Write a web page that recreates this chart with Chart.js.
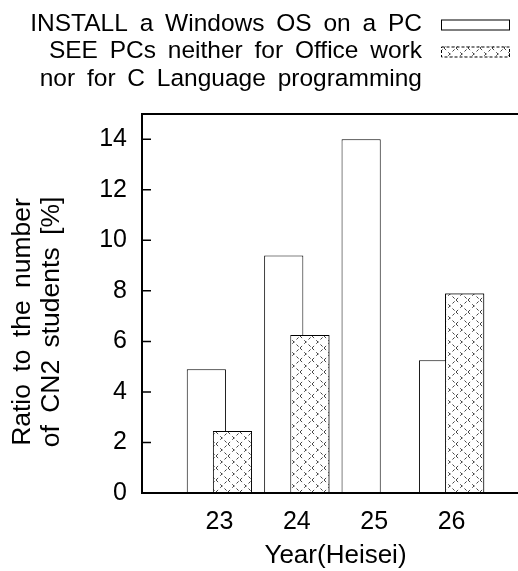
<!DOCTYPE html>
<html>
<head>
<meta charset="utf-8">
<script src="https://cdn.jsdelivr.net/npm/chart.js@4/dist/chart.umd.min.js"></script>
<style>
  html, body { margin: 0; padding: 0; background: #fff; overflow: hidden; }
  #wrap { width: 530px; height: 571px; }
  canvas { display: block; }
</style>
</head>
<body>
<div id="wrap"><canvas id="myChart" width="530" height="571" style="width:530px;height:571px"></canvas></div>
<script>
const years = ["23", "24", "25", "26"];
const installWindows = [4.9, 9.4, 14.0, 5.25];
const seeNoPCs = [2.45, 6.25, null, 7.9];
const seriesNames = [
  ["INSTALL a Windows OS on a PC"],
  ["SEE PCs neither for Office work", "nor for C Language programming"]
];
const yTicks = [0, 2, 4, 6, 8, 10, 12, 14];
const yTitle = ["Ratio to the number", "of CN2 students [%]"];
const xTitle = "Year(Heisei)";

const FONT = "'Liberation Sans', Arial, sans-serif";

// crossed dashed hatch like gnuplot's fill pattern
const makeHatch = () => {
  const c = document.createElement("canvas");
  c.width = 12;
  c.height = 12;
  const g = c.getContext("2d");
  g.fillStyle = "#fff";
  g.fillRect(0, 0, 12, 12);
  g.strokeStyle = "#444";
  g.lineWidth = 1;
  g.setLineDash([3, 3]);
  g.beginPath();
  g.moveTo(0, 0); g.lineTo(12, 12);
  g.moveTo(0, 12); g.lineTo(12, 0);
  g.stroke();
  return g.createPattern(c, "repeat");
};
const ctx = document.getElementById("myChart");
const hatch = makeHatch();

// pad the category axis by one empty slot on each side
const labels = ["", ...years, ""];
const pad = (arr) => [null, ...arr, null];

const framePlugin = {
  id: "frame",
  afterDatasetsDraw(chart) {
    const { ctx: g, chartArea: a, scales } = chart;
    // chart.js paints dataset 0 last; put the hatched bars back on top
    chart.getDatasetMeta(1).data.forEach((bar) => bar.draw(g));
    g.save();
    g.strokeStyle = "#000";
    g.lineWidth = 2;
    g.strokeRect(a.left, a.top, a.right - a.left, a.bottom - a.top);
    g.lineWidth = 1.5;
    g.beginPath();
    yTicks.forEach((v) => {
      const y = scales.y.getPixelForValue(v);
      g.moveTo(a.left, y);
      g.lineTo(a.left + 9, y);
    });
    g.stroke();
    g.restore();
  },
  afterDraw(chart) {
    const g = chart.ctx;
    g.save();
    g.fillStyle = "#000";
    g.font = "26.5px " + FONT;
    g.wordSpacing = "5px";
    // y title
    g.translate(23, 322);
    g.rotate(-Math.PI / 2);
    g.textAlign = "center";
    g.textBaseline = "middle";
    yTitle.forEach((t, i) => g.fillText(t, 0, i * 28.5));
    g.restore();

    // legend, text right aligned with sample box on the right
    g.save();
    g.font = "24.5px " + FONT;
    g.wordSpacing = "5px";
    g.textAlign = "right";
    g.textBaseline = "middle";
    g.fillStyle = "#000";
    let y = 24.5;
    chart.data.datasets.forEach((ds, i) => {
      const lines = seriesNames[i];
      lines.forEach((t, k) => g.fillText(t, 422, y + k * 27.5));
      g.fillStyle = ds.backgroundColor;
      g.fillRect(441, y - 5, 69, 10);
      g.strokeStyle = "#000";
      g.lineWidth = 1;
      if (i === 1) g.setLineDash([3, 2]);
      g.strokeRect(441.5, y - 4.5, 68, 10);
      g.setLineDash([]);
      g.fillStyle = "#000";
      y += lines.length * 27.5 - 0.5;
    });
    g.restore();
  }
};

const myChart = new Chart(ctx, {
  type: "bar",
  data: {
    labels: labels,
    datasets: [
      {
        label: seriesNames[0].join(" "),
        data: pad(installWindows),
        backgroundColor: "#fff",
        borderColor: "#000",
        borderWidth: 1,
      },
      {
        label: seriesNames[1].join(" "),
        data: pad(seeNoPCs),
        backgroundColor: hatch,
        borderColor: "#000",
        borderWidth: 1,
      },
    ],
  },
  options: {
    responsive: false,
    animation: false,
    events: [],
    categoryPercentage: 0.675,
    barPercentage: 1.5,
    layout: { padding: { top: 114, right: 1, left: 0, bottom: 0 } },
    plugins: {
      legend: { display: false },
      tooltip: { enabled: false },
    },
    scales: {
      x: {
        offset: false,
        grid: { display: false, drawTicks: false },
        border: { display: false },
        ticks: {
          color: "#000",
          padding: 14,
          autoSkip: false,
          maxRotation: 0,
          font: { family: FONT, size: 25 },
        },
        title: {
          display: true,
          text: xTitle,
          color: "#000",
          padding: { top: 0, bottom: 0 },
          font: { family: FONT, size: 26 },
        },
        afterFit: (scale) => {
          scale.height = 78;
          scale.paddingLeft = 0;
          scale.paddingRight = 0;
        },
      },
      y: {
        min: 0,
        max: 15,
        grid: { display: false, drawTicks: false },
        border: { display: false },
        ticks: {
          color: "#000",
          padding: 15,
          autoSkip: false,
          font: { family: FONT, size: 25 },
        },
        afterBuildTicks: (scale) => {
          scale.ticks = yTicks.map((v) => ({ value: v }));
        },
        afterFit: (scale) => { scale.width = 142; },
      },
    },
  },
  plugins: [framePlugin],
});
</script>
</body>
</html>
